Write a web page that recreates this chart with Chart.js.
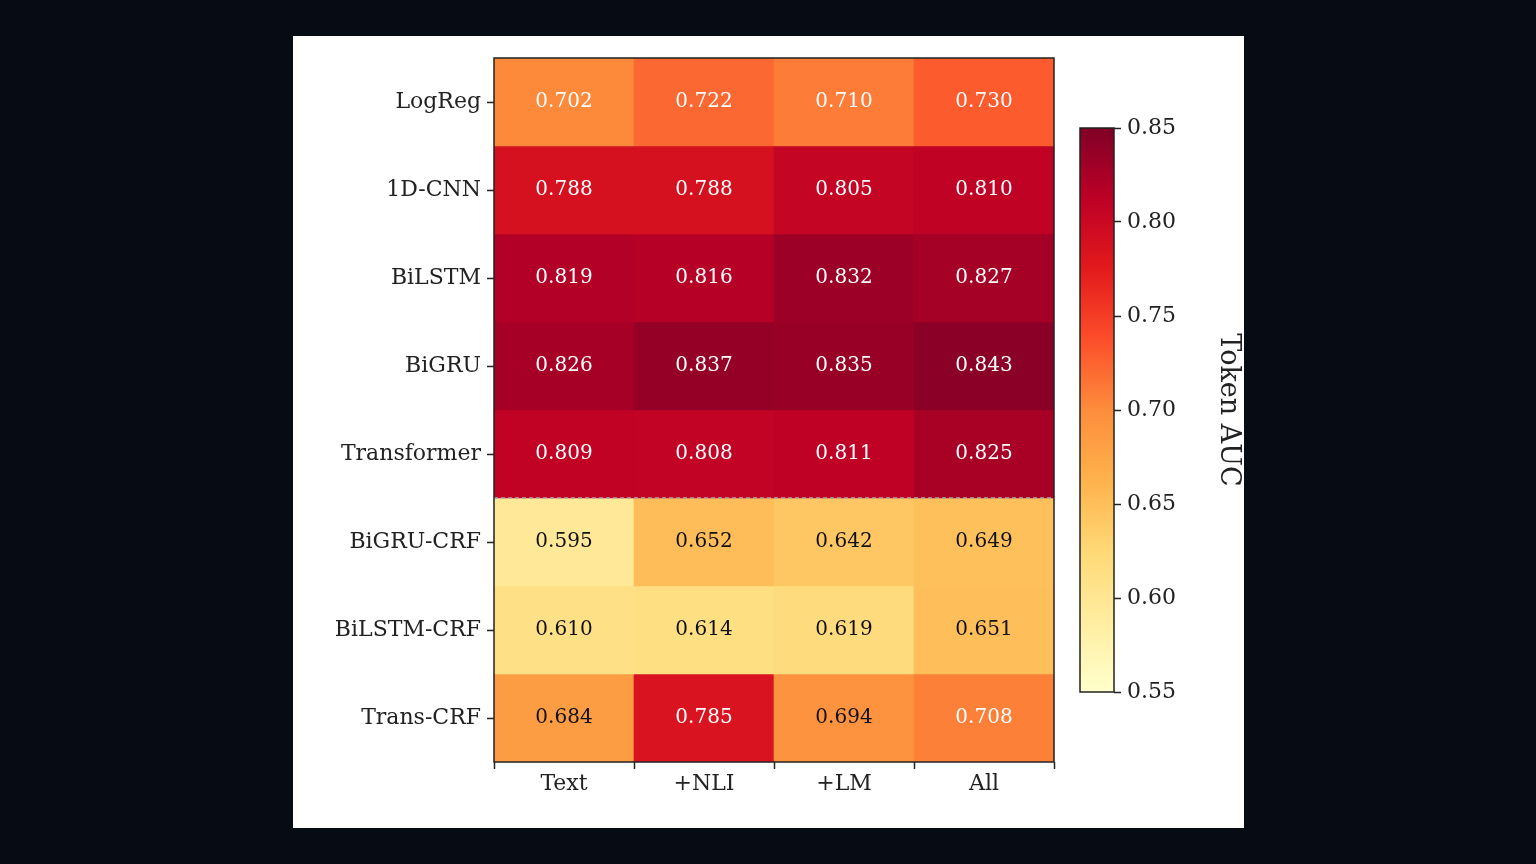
<!DOCTYPE html>
<html>
<head>
<meta charset="utf-8">
<script src="https://cdn.jsdelivr.net/npm/chart.js@4"></script>
<style>
  body { margin: 0; width: 1536px; height: 864px; background: #060b14; position: relative; overflow: hidden; }
  #panel { position: absolute; left: 293px; top: 36px; width: 951px; height: 792px; background: #fff; }
  #heat { position: absolute; left: 293px; top: 36px; }
  #bar { position: absolute; left: 1060px; top: 36px; }
</style>
</head>
<body>
<div id="panel"></div>
<canvas id="heat" width="770" height="792" style="width:770px;height:792px"></canvas>
<canvas id="bar" width="184" height="792" style="width:184px;height:792px"></canvas>
<script>
// 데이터
const models = ['LogReg', '1D-CNN', 'BiLSTM', 'BiGRU', 'Transformer', 'BiGRU-CRF', 'BiLSTM-CRF', 'Trans-CRF'];
const features = ['Text', '+NLI', '+LM', 'All'];
const auc = [
    [0.702, 0.722, 0.710, 0.730],
    [0.788, 0.788, 0.805, 0.810],
    [0.819, 0.816, 0.832, 0.827],
    [0.826, 0.837, 0.835, 0.843],
    [0.809, 0.808, 0.811, 0.825],
    [0.595, 0.652, 0.642, 0.649],
    [0.610, 0.614, 0.619, 0.651],
    [0.684, 0.785, 0.694, 0.708]
];
const cbTicks = [0.55, 0.60, 0.65, 0.70, 0.75, 0.80, 0.85];
const vmin = 0.55, vmax = 0.85;

// YlOrRd 색상표
const stops = ['#ffffcc', '#ffeda0', '#fed976', '#feb24c', '#fd8d3c', '#fc4e2a', '#e31a1c', '#bd0026', '#800026'];
function hex(h) { return [1, 3, 5].map(i => parseInt(h.substr(i, 2), 16)); }
function cmap(v) {
    let t = Math.max(0, Math.min(1, (v - vmin) / (vmax - vmin))) * (stops.length - 1);
    const i = Math.min(stops.length - 2, Math.floor(t));
    const f = t - i;
    const a = hex(stops[i]), b = hex(stops[i + 1]);
    return 'rgb(' + a.map((c, k) => Math.round(c + (b[k] - c) * f)).join(',') + ')';
}

const serif = 'DejaVu Serif';

const datasets = models.map((m, r) => ({
    label: m,
    data: auc[r].map(() => [r, r + 1]),
    backgroundColor: auc[r].map(cmap),
    borderWidth: 0,
    barPercentage: 1,
    categoryPercentage: 1,
    grouped: false
}));

const cellText = {
    id: 'cellText',
    afterDatasetsDraw(chart) {
        const { ctx, scales: { x, y }, chartArea } = chart;
        ctx.save();
        ctx.font = '20px "' + serif + '"';
        ctx.textAlign = 'center';
        ctx.textBaseline = 'middle';
        auc.forEach((row, r) => row.forEach((v, c) => {
            ctx.fillStyle = v > 0.7 ? '#ffffff' : '#111111';
            ctx.fillText(v.toFixed(3), x.getPixelForValue(c), y.getPixelForValue(r + 0.5));
        }));
        // 구분선
        const yy = y.getPixelForValue(5);
        ctx.strokeStyle = '#aaaaaa';
        ctx.lineWidth = 1.5;
        ctx.setLineDash([4, 3]);
        ctx.beginPath();
        ctx.moveTo(chartArea.left, yy);
        ctx.lineTo(chartArea.right, yy);
        ctx.stroke();
        ctx.restore();
        // 테두리
        ctx.save();
        ctx.strokeStyle = '#222';
        ctx.lineWidth = 1.5;
        ctx.strokeRect(chartArea.left, chartArea.top, chartArea.right - chartArea.left, chartArea.bottom - chartArea.top);
        ctx.restore();
    }
};

new Chart(document.getElementById('heat').getContext('2d'), {
    type: 'bar',
    data: { labels: features, datasets: datasets },
    options: {
        responsive: false,
        animation: false,
        layout: { padding: { top: 22, right: 9 } },
        plugins: { legend: { display: false }, tooltip: { enabled: false } },
        scales: {
            x: {
                grid: { drawOnChartArea: false, tickLength: 7, color: '#222', tickWidth: 1.5 },
                border: { display: false },
                ticks: { color: '#222', font: { family: serif, size: 22 }, padding: 2 },
                afterFit(s) { s.height = 66; }
            },
            y: {
                type: 'linear',
                reverse: true,
                min: 0,
                max: models.length,
                afterBuildTicks(s) { s.ticks = models.map((m, i) => ({ value: i + 0.5 })); },
                grid: { drawOnChartArea: false, tickLength: 7, color: '#222', tickWidth: 1.5 },
                border: { display: false },
                ticks: {
                    color: '#222', font: { family: serif, size: 22 }, padding: 6,
                    callback: (v) => models[Math.floor(v)]
                },
                afterFit(s) { s.width = 201; }
            }
        }
    },
    plugins: [cellText]
});

// 컬러바
const gradient = {
    id: 'gradient',
    beforeDatasetsDraw(chart) {
        const { ctx, chartArea: a } = chart;
        const g = ctx.createLinearGradient(0, a.bottom, 0, a.top);
        stops.forEach((s, i) => g.addColorStop(i / (stops.length - 1), s));
        ctx.save();
        ctx.fillStyle = g;
        ctx.fillRect(a.left, a.top, a.right - a.left, a.bottom - a.top);
        ctx.strokeStyle = '#222';
        ctx.lineWidth = 1.5;
        ctx.strokeRect(a.left, a.top, a.right - a.left, a.bottom - a.top);
        ctx.restore();
    }
};

new Chart(document.getElementById('bar').getContext('2d'), {
    type: 'bar',
    data: { labels: [''], datasets: [{ data: [null] }] },
    options: {
        responsive: false,
        animation: false,
        layout: { padding: { top: 92, bottom: 136, left: 20, right: 0 } },
        plugins: { legend: { display: false }, tooltip: { enabled: false } },
        scales: {
            x: { display: false },
            y: {
                position: 'right',
                min: vmin,
                max: vmax,
                afterBuildTicks(s) { s.ticks = cbTicks.map(v => ({ value: v })); },
                grid: { drawOnChartArea: false, tickLength: 7, color: '#222', tickWidth: 1.5 },
                border: { display: false },
                ticks: { color: '#222', font: { family: serif, size: 22 }, padding: 6, callback: v => v.toFixed(2) },
                title: { display: true, text: 'Token AUC', color: '#222', font: { family: serif, size: 27 }, padding: 0 },
                afterFit(s) { s.width = 130; }
            }
        }
    },
    plugins: [gradient]
});
</script>
</body>
</html>
